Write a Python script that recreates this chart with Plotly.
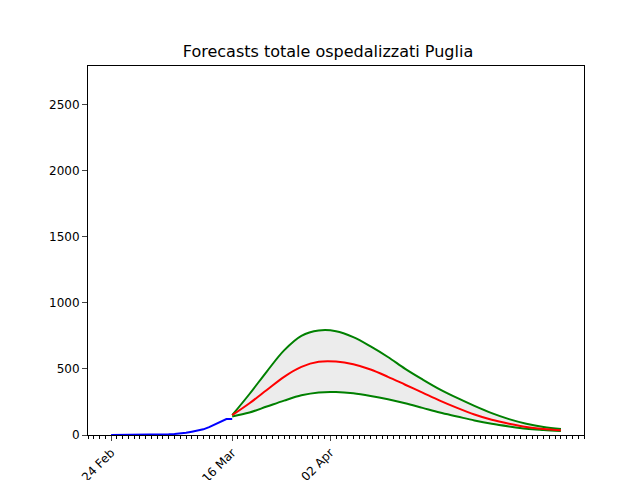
import pandas as pd
import plotly.graph_objects as go

# observed hospitalised, 24 Feb - 16 Mar
obs_start = "2020-02-24"
observed = [0, 0, 0, 1, 2, 2, 3, 3, 3, 4, 5, 8, 10, 17, 25, 33, 43, 60, 80, 100, 121, 121]

# forecasts every 3 days from 16 Mar to 12 May
fc_start = "2020-03-16"
upper = [150, 310, 480, 640, 750, 790, 785, 740, 670, 590, 500, 420, 345, 280, 220, 165, 120, 85, 60, 45]
mid = [150, 240, 340, 440, 515, 553, 555, 535, 495, 440, 380, 320, 260, 205, 155, 115, 85, 60, 45, 35]
lower = [140, 170, 215, 260, 300, 322, 325, 315, 295, 270, 240, 205, 170, 140, 110, 85, 65, 48, 38, 30]

tick_dates = ["2020-02-24", "2020-03-16", "2020-04-02"]
tick_text = ["24 Feb", "16 Mar", "02 Apr"]

obs_x = list(pd.date_range(obs_start, periods=len(observed), freq="D"))
fc_x = list(pd.date_range(fc_start, periods=len(mid), freq="3D"))

fig = go.Figure()
fig.add_trace(go.Scatter(x=fc_x, y=lower, mode="lines", line=dict(color="green", width=2, shape="spline")))
fig.add_trace(go.Scatter(x=fc_x, y=upper, mode="lines", fill="tonexty", fillcolor="rgba(200,200,200,0.35)",
                         line=dict(color="green", width=2, shape="spline")))
fig.add_trace(go.Scatter(x=fc_x, y=mid, mode="lines", line=dict(color="red", width=2, shape="spline")))
fig.add_trace(go.Scatter(x=obs_x, y=observed, mode="lines", line=dict(color="blue", width=2)))

fig.update_layout(
    width=640, height=480, showlegend=False,
    paper_bgcolor="white", plot_bgcolor="white",
    margin=dict(l=80, r=64, t=58, b=53),
    font=dict(family="DejaVu Sans", size=12, color="black"),
    title=dict(text="Forecasts totale ospedalizzati Puglia", x=0.5, xanchor="center", y=0.91, yanchor="middle",
               font=dict(size=16)),
)
fig.update_xaxes(range=["2020-02-20", "2020-05-16"], tickvals=tick_dates, ticktext=tick_text, tickangle=-45,
                 automargin=False, showgrid=False, showline=True, linecolor="black", mirror=True,
                 ticks="outside", ticklen=5,
                 minor=dict(dtick=86400000, tick0="2020-02-24", ticks="outside", ticklen=3, tickcolor="black", showgrid=False))
fig.update_yaxes(range=[0, 2790], tickvals=[0, 500, 1000, 1500, 2000, 2500], showgrid=False, zeroline=False,
                 automargin=False, showline=True, linecolor="black", mirror=True, ticks="outside", ticklen=5)

fig.write_html("out.html")
